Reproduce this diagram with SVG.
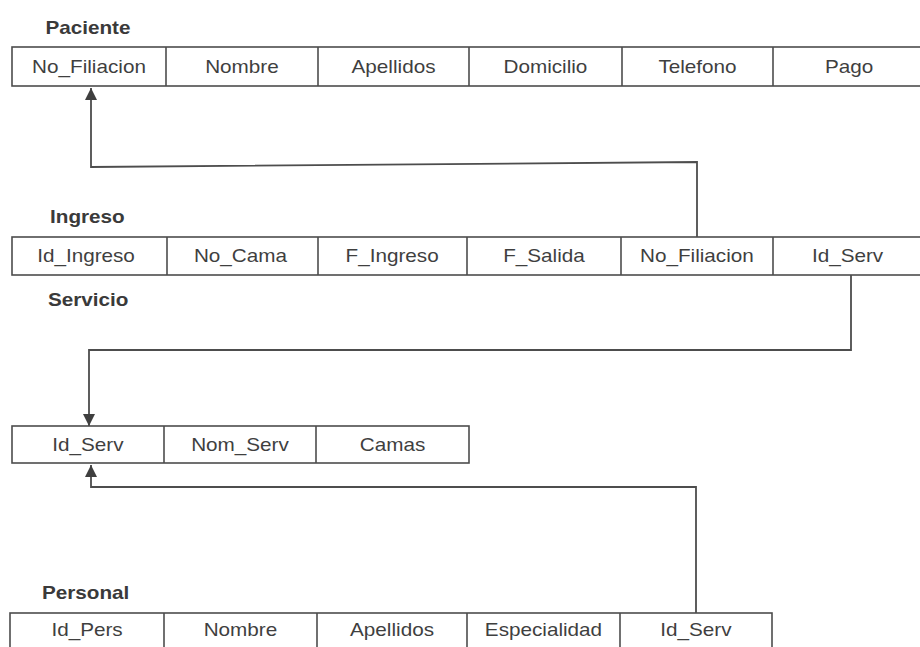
<svg xmlns="http://www.w3.org/2000/svg" width="920" height="647" viewBox="0 0 920 647">
  <style>
    .cell { fill: #ffffff; stroke: #4d4d4d; stroke-width: 1.6; }
    .div { stroke: #4d4d4d; stroke-width: 1.6; }
    .attr { font-family: "Liberation Sans", Arial, sans-serif; font-size: 18px; fill: #3f3f3f; text-anchor: middle; }
    .title { font-family: "Liberation Sans", Arial, sans-serif; font-size: 18px; font-weight: bold; fill: #3a3a3a; }
    .link { fill: none; stroke: #4d4d4d; stroke-width: 1.8; stroke-linejoin: miter; }
  </style>
  <defs>
    <marker id="arrow" viewBox="0 0 12 12" refX="12" refY="6" markerWidth="12" markerHeight="12" markerUnits="userSpaceOnUse" orient="auto">
      <path d="M0,0 L12,6 L0,12 Z" fill="#3f3f3f"/>
    </marker>
  </defs>
  <rect width="920" height="647" fill="#ffffff"/>

  <!-- Paciente table -->
  <g id="paciente">
    <rect class="cell" x="12" y="47" width="913" height="39"/>
    <line class="div" x1="166" y1="47" x2="166" y2="86"/>
    <line class="div" x1="318" y1="47" x2="318" y2="86"/>
    <line class="div" x1="469" y1="47" x2="469" y2="86"/>
    <line class="div" x1="622" y1="47" x2="622" y2="86"/>
    <line class="div" x1="773" y1="47" x2="773" y2="86"/>
    <g transform="scale(1.15,1)">
      <text class="title" x="39.5" y="34">Paciente</text>
      <text class="attr" x="77.4" y="73">No_Filiacion</text>
      <text class="attr" x="210.4" y="73">Nombre</text>
      <text class="attr" x="342.2" y="73">Apellidos</text>
      <text class="attr" x="474.3" y="73">Domicilio</text>
      <text class="attr" x="606.5" y="73">Telefono</text>
      <text class="attr" x="738.3" y="73">Pago</text>
    </g>
  </g>

  <!-- Ingreso table -->
  <g id="ingreso">
    <rect class="cell" x="12" y="237" width="913" height="38"/>
    <line class="div" x1="167" y1="237" x2="167" y2="275"/>
    <line class="div" x1="318" y1="237" x2="318" y2="275"/>
    <line class="div" x1="467" y1="237" x2="467" y2="275"/>
    <line class="div" x1="621" y1="237" x2="621" y2="275"/>
    <line class="div" x1="773" y1="237" x2="773" y2="275"/>
    <g transform="scale(1.15,1)">
      <text class="title" x="43.5" y="223">Ingreso</text>
      <text class="attr" x="74.8" y="262">Id_Ingreso</text>
      <text class="attr" x="209.1" y="262">No_Cama</text>
      <text class="attr" x="341" y="262">F_Ingreso</text>
      <text class="attr" x="473" y="262">F_Salida</text>
      <text class="attr" x="606" y="262">No_Filiacion</text>
      <text class="attr" x="737" y="262">Id_Serv</text>
    </g>
  </g>

  <!-- Servicio table -->
  <g id="servicio">
    <rect class="cell" x="12" y="426" width="457" height="37"/>
    <line class="div" x1="164" y1="426" x2="164" y2="463"/>
    <line class="div" x1="316" y1="426" x2="316" y2="463"/>
    <g transform="scale(1.15,1)">
      <text class="title" x="41.7" y="306">Servicio</text>
      <text class="attr" x="76.5" y="451">Id_Serv</text>
      <text class="attr" x="208.7" y="451">Nom_Serv</text>
      <text class="attr" x="341.3" y="451">Camas</text>
    </g>
  </g>

  <!-- Personal table -->
  <g id="personal">
    <rect class="cell" x="10" y="613" width="762" height="40"/>
    <line class="div" x1="164" y1="613" x2="164" y2="653"/>
    <line class="div" x1="317" y1="613" x2="317" y2="653"/>
    <line class="div" x1="467" y1="613" x2="467" y2="653"/>
    <line class="div" x1="620" y1="613" x2="620" y2="653"/>
    <g transform="scale(1.15,1)">
      <text class="title" x="36.5" y="599">Personal</text>
      <text class="attr" x="75.7" y="636">Id_Pers</text>
      <text class="attr" x="209.1" y="636">Nombre</text>
      <text class="attr" x="340.9" y="636">Apellidos</text>
      <text class="attr" x="472.6" y="636">Especialidad</text>
      <text class="attr" x="605.2" y="636">Id_Serv</text>
    </g>
  </g>

  <!-- Foreign-key links -->
  <g id="connectors">
    <polyline class="link" points="697,237 697,162 91,167 91,88" marker-end="url(#arrow)"/>
    <polyline class="link" points="851,275 851,350 89,350 89,426" marker-end="url(#arrow)"/>
    <polyline class="link" points="696,613 696,487 91,487 91,465" marker-end="url(#arrow)"/>
  </g>
</svg>
